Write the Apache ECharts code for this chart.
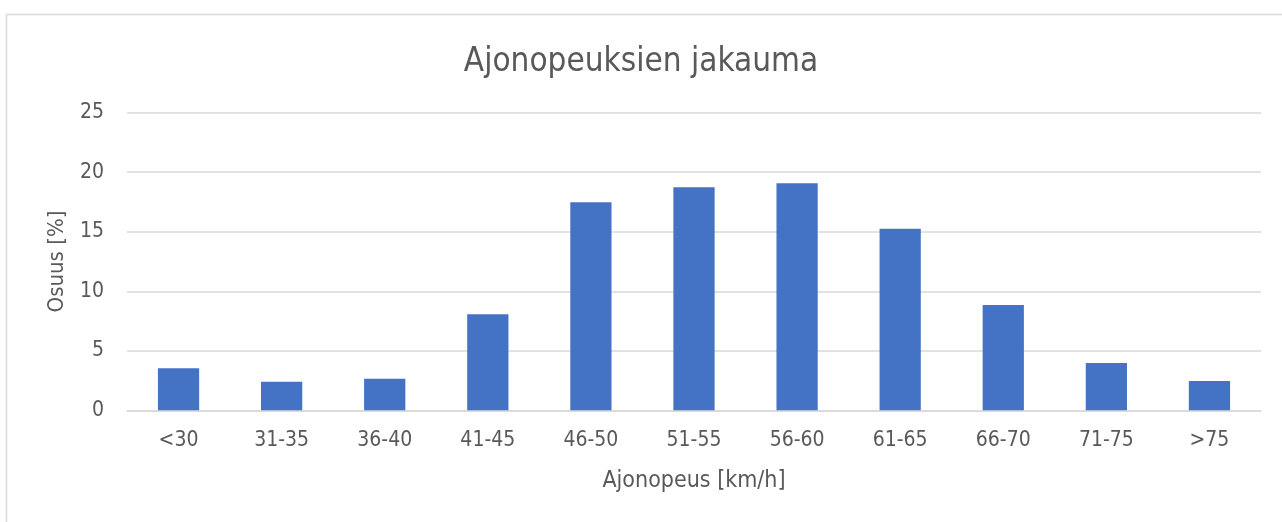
<!DOCTYPE html>
<html><head><meta charset="utf-8">
<script src="https://cdn.jsdelivr.net/npm/echarts@6/dist/echarts.min.js"></script>
<style>html,body{margin:0;padding:0;background:#fff}#c{width:1282px;height:522px}</style>
</head><body><div id="c"></div>
<script>
const categories = ['<30','31-35','36-40','41-45','46-50','51-55','56-60','61-65','66-70','71-75','>75'];
const shares = [3.53, 2.40, 2.66, 8.07, 17.48, 18.74, 19.08, 15.26, 8.85, 3.97, 2.46];
const titleText = 'Ajonopeuksien jakauma';
const xName = 'Ajonopeus [km/h]';
const yName = 'Osuus [%]';
const FONT = '"Liberation Sans Narrow", "DejaVu Sans Condensed", "Roboto Condensed", sans-serif';
const chart = echarts.init(document.getElementById('c'));
chart.setOption({
  animation: false,
  backgroundColor: '#fff',
  graphic: [{type:'rect', shape:{x:6.5,y:14.5,width:1300,height:520}, style:{fill:'none', stroke:'#d9d9d9', lineWidth:1.5}, silent:true}],
  title: {text: titleText, left: 'center', top: 41, textStyle:{fontFamily:FONT, fontSize:33, fontWeight:'normal', color:'#595959'}},
  grid: {left:127, right:21, top:112.7, bottom:111.7, containLabel:false},
  xAxis: {type:'category', data: categories, name: xName, nameLocation:'middle', nameGap:59,
    nameTextStyle:{fontFamily:FONT, fontSize:23, color:'#595959'},
    axisLine:{lineStyle:{color:'#d9d9d9', width:1.5}}, axisTick:{show:false},
    axisLabel:{fontFamily:FONT, fontSize:21, color:'#595959', margin:20}},
  yAxis: {type:'value', min:0, max:25, interval:5, name: yName, nameLocation:'middle', nameGap:59, nameRotate:90,
    nameTextStyle:{fontFamily:FONT, fontSize:22, color:'#595959'},
    axisLine:{show:false}, axisTick:{show:false},
    axisLabel:{fontFamily:FONT, fontSize:21, color:'#595959', margin:23},
    splitLine:{lineStyle:{color:'#d9d9d9', width:1.5}}},
  series: [{type:'bar', data: shares, barWidth:'40%', itemStyle:{color:'#4472C4'}}]
});
</script></body></html>
